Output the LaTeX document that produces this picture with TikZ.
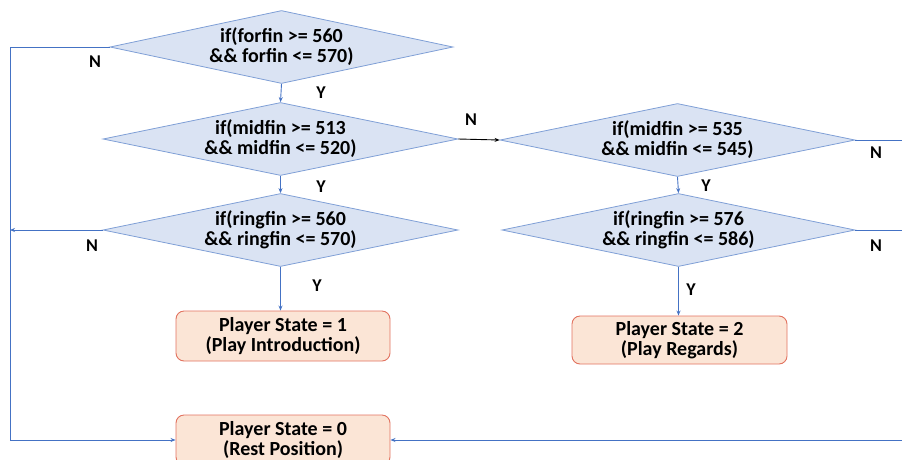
\documentclass[tikz,border=0pt]{standalone}
\usepackage{fontspec}
\setmainfont{Carlito}
\usetikzlibrary{shapes.geometric,arrows.meta}

\definecolor{decfill}{HTML}{DAE3F3}
\definecolor{decline}{HTML}{7F9FD6}
\definecolor{statefill}{HTML}{FBE5D6}
\definecolor{stateline}{HTML}{E2725F}
\definecolor{flowline}{HTML}{4472C4}

\tikzset{
  decision/.style={diamond, draw=decline, fill=decfill, line width=0.8pt,
    minimum width=355pt, minimum height=73pt, inner sep=0pt, shape aspect=4.7,
    align=center, font=\bfseries\fontsize{20}{20}\selectfont},
  state/.style={rectangle, rounded corners=8pt, draw=stateline, fill=statefill,
    line width=0.9pt, minimum width=214pt, minimum height=50pt, inner sep=0pt,
    align=center, font=\bfseries\fontsize{20}{20}\selectfont},
  flow/.style={draw=flowline, line width=0.9pt, -{Stealth[length=5pt,width=4pt]}},
  rail/.style={draw=flowline, line width=0.9pt},
  lab/.style={font=\bfseries\fontsize{18}{18}\selectfont}
}

\begin{document}
\begin{tikzpicture}[x=1pt,y=-1pt]
\useasboundingbox (0,0) rectangle (902,459);
\clip (0,0) rectangle (902,459);

% decisions
\node[decision, minimum width=343pt] (forfin) at (281.5,47) {if(forfin >= 560\\\&\& forfin <= 570)};
\node[decision] (midA) at (280.5,139) {if(midfin >= 513\\\&\& midfin <= 520)};
\node[decision] (ringA) at (280.5,230) {if(ringfin >= 560\\\&\& ringfin <= 570)};
\node[decision] (midB) at (677.5,140) {if(midfin >= 535\\\&\& midfin <= 545)};
\node[decision, minimum width=353pt] (ringB) at (678.5,230) {if(ringfin >= 576\\\&\& ringfin <= 586)};

% states
\node[state] (play1) at (283,336) {Player State = 1\\(Play Introduction)};
\node[state, minimum width=215pt, minimum height=48pt] (play2) at (679.5,340) {Player State = 2\\(Play Regards)};
\node[state] (rest) at (283,440) {Player State = 0\\(Rest Position)};

\coordinate (leftrail) at (10,440);
\coordinate (rightrail) at (912,440);

% yes branches
\draw[flow] (forfin.south) -- (midA.north);
\draw[flow] (midA.south) -- (ringA.north);
\draw[flow] (ringA.south) -- (ringA.south |- play1.north);
\draw[flow] (midB.south) -- (ringB.north);
\draw[flow] (ringB.south) -- (ringB.south |- play2.north);

% no branches
\draw[flow, draw=black] (midA.east) -- (midB.west);
\draw[flow] (forfin.west) -| (leftrail) -- (rest.west);
\draw[flow] (ringA.west) -- (ringA.west -| leftrail);
\draw[rail] (midB.east) -| (rightrail);
\draw[rail] (ringB.east) -- (ringB.east -| rightrail);
\draw[flow] (rightrail) -- (rest.east);

% labels
\node[lab] (nforfin) at (95,62) {N};
\node[lab] (yforfin) at (321,93) {Y};
\node[lab] (ymidA) at (321,187) {Y};
\node[lab] (nringA) at (92,246) {N};
\node[lab] (yringA) at (317,286) {Y};
\node[lab] (nmidA) at (471,120) {N};
\node[lab] (nmidB) at (876,153) {N};
\node[lab] (ymidB) at (706,186) {Y};
\node[lab] (nringB) at (876,246) {N};
\node[lab] (yringB) at (691,290) {Y};
\end{tikzpicture}
\end{document}
